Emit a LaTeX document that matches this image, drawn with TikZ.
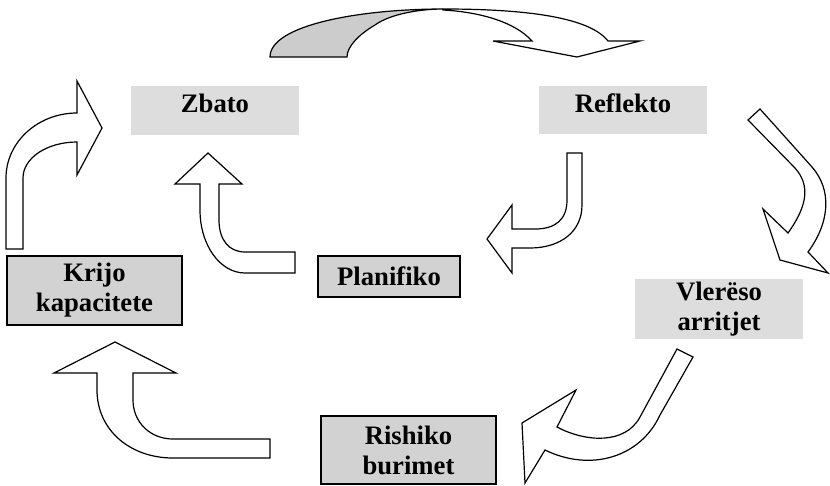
\documentclass[tikz,border=0pt]{standalone}
\usepackage{fontspec}
\setmainfont{Liberation Serif}
\usepackage{tikz}
\usetikzlibrary{positioning}
\definecolor{boxgray}{RGB}{221, 221, 221}
\definecolor{backgray}{RGB}{204, 204, 204}

\begin{document}
\begin{tikzpicture}[x=0.75pt, y=-0.75pt,
  stepfont/.style={font=\bfseries\fontsize{20}{22.5}\selectfont},
  flatbox/.style={stepfont, fill=boxgray, draw=none, inner ysep=0pt, align=center},
  framebox/.style={stepfont, fill=boxgray!95!black, draw=black, line width=1.5pt, inner sep=0pt, align=center},
  blockarrow/.style={draw=black, fill=white, line width=0.9pt, line join=miter},
]
  \useasboundingbox (0,0) rectangle (830,485);

  % Steps
  \node[flatbox, minimum width=126pt, text height=19.5pt, text depth=17.25pt] (zbato) at (215,110.5) {Zbato};
  \node[flatbox, minimum width=126pt, text height=19.5pt, text depth=16.5pt] (reflekto) at (623,110) {Reflekto};
  \node[framebox, minimum width=131.25pt, minimum height=51.75pt] (krijo) at (94.5,290.5) {Krijo\\kapacitete};
  \node[framebox, minimum width=106.5pt, minimum height=30.75pt] (planifiko) at (389,276.5) {Planifiko};
  \node[flatbox, inner sep=0pt, minimum width=126pt, minimum height=45pt] (vlereso) at (719,309) {Vlerëso\\arritjet};
  \node[framebox, minimum width=131.25pt, minimum height=51pt] (rishiko) at (408.5,450) {Rishiko\\burimet};

  % Top arch: back side (grey), then front side
  \draw[blockarrow, fill=backgray] (270,57) .. controls (270,25) and (360,9) .. (443,9)
    .. controls (420,9) and (390,14) .. (375,25) .. controls (358,35) and (347,47) .. (347,57) -- cycle;
  \draw[blockarrow] (443,9) .. controls (530,9) and (590,18) .. (608,41) -- (640,41)
    -- (577,57) -- (493,41) -- (532,41) .. controls (515,22) and (480,12) .. (443,10) -- cycle;

  % Reflekto -> Vleraso
  \draw[blockarrow] (748,120) -- (760,109) -- (812,167) .. controls (832,190) and (830,222) .. (808,252)
    -- (828,273) -- (780,260) -- (763,209) -- (788,233)
    .. controls (808,205) and (810,185) .. (795,168) -- cycle;

  % Vleraso -> Rishiko
  \draw[blockarrow] (677,349) -- (693,357) -- (660,415) .. controls (640,458) and (590,472) .. (545,450)
    -- (525,483) -- (522,423) -- (576,390) -- (557,427)
    .. controls (585,442) and (625,445) .. (640,417) -- cycle;

  % Rishiko -> Krijo
  \draw[blockarrow] (270,439) -- (173,439) .. controls (150,439) and (133,422) .. (133,400)
    -- (133,373) -- (176,373) -- (115,342) -- (54,373) -- (97,373) -- (97,390)
    .. controls (97,430) and (130,458) .. (173,458) -- (270,458) -- cycle;

  % Krijo -> Zbato
  \draw[blockarrow] (6,249) -- (6,178) .. controls (6,142) and (38,113) .. (77,113)
    -- (77,81) -- (102,128) -- (77,175) -- (77,142)
    .. controls (47,142) and (23,158) .. (23,178) -- (23,249) -- cycle;

  % Planifiko -> Zbato
  \draw[blockarrow] (295,252) -- (245,252) .. controls (229,252) and (219,240) .. (219,220)
    -- (219,184) -- (242,184) -- (208,153) -- (175,184) -- (200,184) -- (200,210)
    .. controls (200,245) and (220,273) .. (245,273) -- (295,273) -- cycle;

  % Reflekto -> Planifiko
  \draw[blockarrow] (567,153) -- (582,153) -- (582,205) .. controls (582,232) and (560,248) .. (530,248)
    -- (512,248) -- (512,273) -- (487,239) -- (512,205) -- (512,229) -- (535,229)
    .. controls (555,229) and (567,220) .. (567,200) -- cycle;

\end{tikzpicture}
\end{document}
